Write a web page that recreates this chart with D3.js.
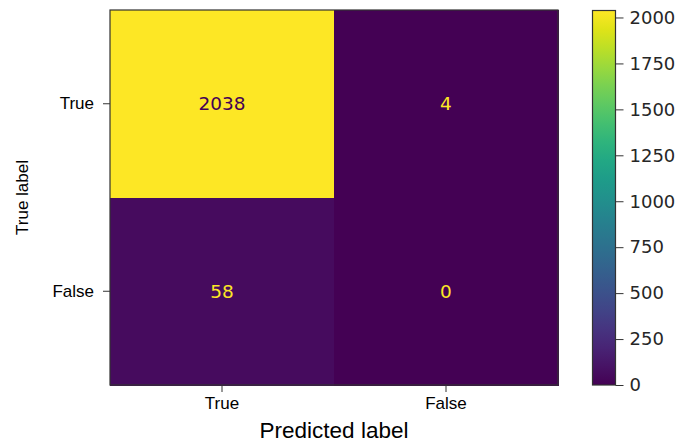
<!DOCTYPE html>
<html>
  <head>
    <title>Confusion Matrix</title>
    <script src="https://d3js.org/d3.v7.min.js"></script>
    <style>
      body {
        margin: 0;
        background: #fff;
      }
      .lbl {
        font-family: "Liberation Sans", Arial, sans-serif;
        fill: #000;
      }
      .num {
        font-family: "DejaVu Sans", sans-serif;
      }
    </style>
  </head>
  <body>
    <div id="cm"></div>
    <script>
      const trueLabels = ["True", "False"];
      const predLabels = ["True", "False"];
      // rows = true label, columns = predicted label
      const counts = [
        [2038, 4],
        [58, 0],
      ];
      const cbarTicks = [0, 250, 500, 750, 1000, 1250, 1500, 1750, 2000];

      const W = 681,
        H = 445;
      const plot = { left: 110, top: 10, right: 558, bottom: 385 };
      const cbar = { left: 592.5, right: 615.5, top: 10.5, bottom: 385 };

      const svg = d3
        .select("#cm")
        .append("svg")
        .attr("width", W)
        .attr("height", H);

      const vmax = d3.max(counts.flat());
      const color = d3.scaleSequential(d3.interpolateViridis).domain([0, vmax]);

      const x = d3
        .scaleBand()
        .domain(predLabels)
        .range([plot.left, plot.right]);
      const y = d3
        .scaleBand()
        .domain(trueLabels)
        .range([plot.top, plot.bottom]);

      const cells = [];
      counts.forEach((row, i) =>
        row.forEach((v, j) =>
          cells.push({ t: trueLabels[i], p: predLabels[j], v: v })
        )
      );

      // cells
      svg
        .append("g")
        .attr("shape-rendering", "crispEdges")
        .selectAll("rect")
        .data(cells)
        .join("rect")
        .attr("x", (d) => x(d.p))
        .attr("y", (d) => y(d.t))
        .attr("width", x.bandwidth() + 0.5)
        .attr("height", y.bandwidth() + 0.5)
        .attr("fill", (d) => color(d.v));

      // cell values
      svg
        .append("g")
        .selectAll("text")
        .data(cells)
        .join("text")
        .attr("class", "num")
        .attr("x", (d) => x(d.p) + x.bandwidth() / 2)
        .attr("y", (d) => y(d.t) + y.bandwidth() / 2)
        .attr("text-anchor", "middle")
        .attr("dominant-baseline", "central")
        .style("font-size", "18.5px")
        .attr("fill", (d) => (d.v > vmax / 2 ? color(0) : color(vmax)))
        .text((d) => d.v);

      // frame
      svg
        .append("rect")
        .attr("x", plot.left)
        .attr("y", plot.top)
        .attr("width", plot.right - plot.left)
        .attr("height", plot.bottom - plot.top)
        .attr("fill", "none")
        .attr("stroke", "#333")
        .attr("stroke-width", 1.2);

      // axes
      const xAxis = svg
        .append("g")
        .attr("transform", `translate(0,${plot.bottom})`)
        .call(d3.axisBottom(x).tickSize(7).tickPadding(5));
      const yAxis = svg
        .append("g")
        .attr("transform", `translate(${plot.left},0)`)
        .call(d3.axisLeft(y).tickSize(7).tickPadding(9));
      [xAxis, yAxis].forEach((g) => {
        g.select(".domain").remove();
        g.selectAll(".tick line").attr("stroke", "#333");
        g.selectAll(".tick text")
          .attr("class", "lbl")
          .style("font-size", "17px")
          .attr("fill", "#000");
      });

      // axis titles
      svg
        .append("text")
        .attr("class", "lbl")
        .attr("x", (plot.left + plot.right) / 2)
        .attr("y", 438)
        .attr("text-anchor", "middle")
        .style("font-size", "22.5px")
        .text("Predicted label");

      svg
        .append("text")
        .attr("class", "lbl")
        .attr("transform", `translate(28,${(plot.top + plot.bottom) / 2}) rotate(-90)`)
        .attr("text-anchor", "middle")
        .style("font-size", "17px")
        .text("True label");

      // colorbar
      const defs = svg.append("defs");
      const grad = defs
        .append("linearGradient")
        .attr("id", "vir")
        .attr("x1", 0)
        .attr("y1", 1)
        .attr("x2", 0)
        .attr("y2", 0);
      d3.range(0, 1.0001, 0.05).forEach((t) =>
        grad
          .append("stop")
          .attr("offset", t)
          .attr("stop-color", d3.interpolateViridis(t))
      );

      svg
        .append("rect")
        .attr("x", cbar.left)
        .attr("y", cbar.top)
        .attr("width", cbar.right - cbar.left)
        .attr("height", cbar.bottom - cbar.top)
        .attr("fill", "url(#vir)")
        .attr("stroke", "#333")
        .attr("stroke-width", 1.2);

      const cy = d3
        .scaleLinear()
        .domain([0, vmax])
        .range([cbar.bottom, cbar.top]);
      const cAxis = svg
        .append("g")
        .attr("transform", `translate(${cbar.right},0)`)
        .call(
          d3
            .axisRight(cy)
            .tickValues(cbarTicks)
            .tickFormat(d3.format("d"))
            .tickSize(8)
            .tickPadding(6)
        );
      cAxis.select(".domain").remove();
      cAxis.selectAll(".tick line").attr("stroke", "#333");
      cAxis
        .selectAll(".tick text")
        .attr("class", "num")
        .style("font-size", "18px")
        .attr("fill", "#262626");
    </script>
  </body>
</html>
